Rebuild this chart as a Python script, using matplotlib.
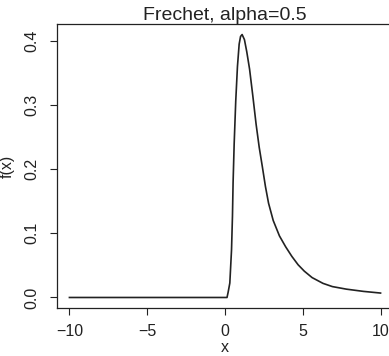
import matplotlib
matplotlib.use("Agg")
import matplotlib.pyplot as plt

# values
x_vals = [-10, 0.0, 0.13, 0.2, 0.31, 0.42, 0.48, 0.52, 0.59, 0.69, 0.80, 0.91, 1.0, 1.1,
          1.25, 1.4, 1.58, 1.79, 2.0, 2.2, 2.4, 2.6, 2.8, 3.1, 3.5, 3.9, 4.3, 4.7, 5.1,
          5.6, 6.3, 6.9, 7.8, 8.9, 10.0]
y_vals = [0, 0, 0, 0.008, 0.0225, 0.0745, 0.127, 0.179, 0.24, 0.306, 0.36, 0.395, 0.407, 0.410,
          0.402, 0.383, 0.356, 0.314, 0.270, 0.234, 0.204, 0.173, 0.147, 0.120, 0.096, 0.079, 0.064,
          0.051, 0.041, 0.031, 0.022, 0.017, 0.013, 0.0095, 0.0069]
x_ticks = [-10, -5, 0, 5, 10]
x_tick_labels = ["\u221210", "\u22125", "0", "5", "10"]
y_ticks = [0.0, 0.1, 0.2, 0.3, 0.4]
y_tick_labels = ["0.0", "0.1", "0.2", "0.3", "0.4"]

plt.rcParams['font.family'] = ['Liberation Sans', 'DejaVu Sans']

fig = plt.figure(figsize=(3.89, 3.56), dpi=100)
# axes run past the right edge, like the cropped original
ax = fig.add_axes([57 / 389, 48 / 356, 336 / 389, 284 / 356])

ax.plot(x_vals, y_vals, color='#222222', lw=1.2)

ax.set_xlim(-10.8, 10.8)
ax.set_ylim(-0.0164, 0.4264)
ax.set_xticks(x_ticks)
ax.set_xticklabels(x_tick_labels)
ax.set_yticks(y_ticks)
ax.set_yticklabels(y_tick_labels, rotation=90, va='center')
ax.tick_params(direction='out', length=5, width=0.8, labelsize=11.5, colors='#222222')
ax.tick_params(axis='x', pad=6.5)
ax.tick_params(axis='y', pad=8)

for s in ax.spines.values():
    s.set_linewidth(0.9)
    s.set_color('#222222')

ax.set_title("Frechet, alpha=0.5", fontsize=14, pad=1, color='#222222')
ax.set_xlabel("x", fontsize=11.5, labelpad=1, color='#222222')
ax.set_ylabel("f(x)", fontsize=11.5, color='#222222')
ax.yaxis.set_label_coords(-0.125, 0.5)

fig.savefig("out.png", dpi=100)
